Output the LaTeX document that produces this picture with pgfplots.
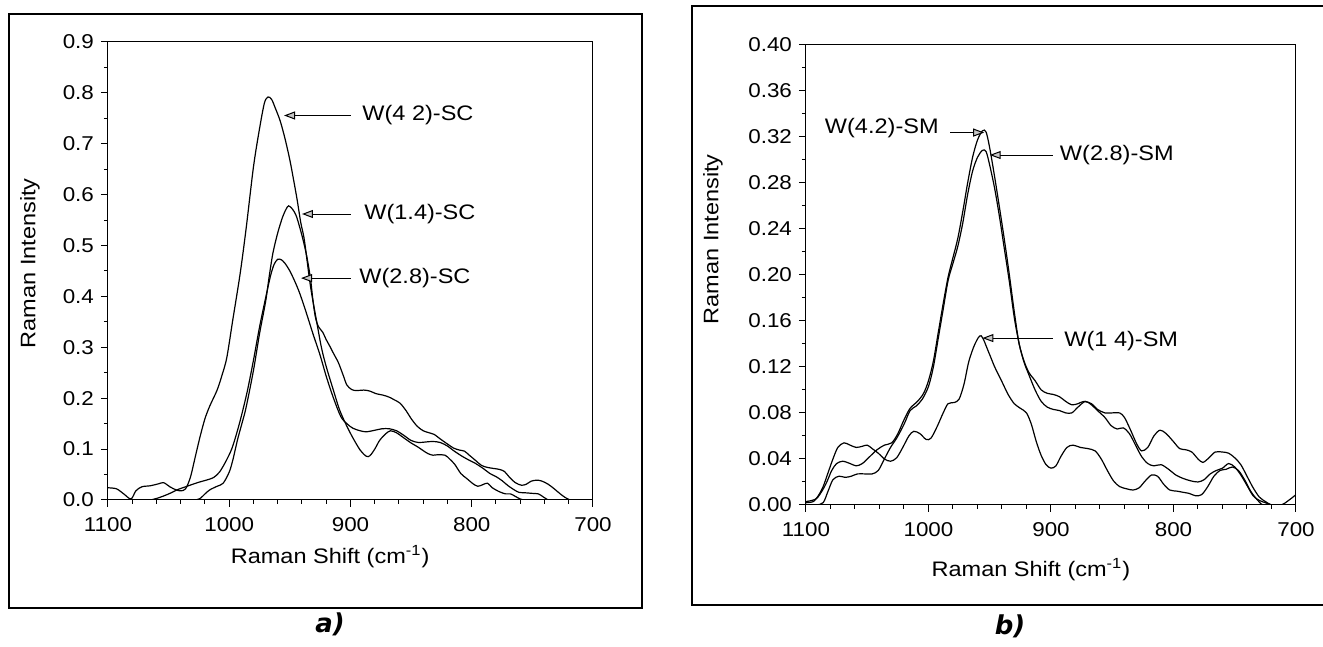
\documentclass[border=0pt]{standalone}
\usepackage{fontspec}
\setmainfont{Liberation Sans}[FakeStretch=1.12]
\newfontfamily\capfont{DejaVu Sans}
\usepackage{pgfplots}
\pgfplotsset{compat=1.18}
\usetikzlibrary{arrows.meta}

\pgfplotstableread{
x y
1100 0.024
1093 0.022
1087 0.012
1081 0.002
1077 0.018
1072 0.026
1065 0.028
1058 0.032
1054 0.034
1049 0.026
1044 0.020
1040 0.018
1036 0.022
1032 0.045
1028 0.085
1024 0.125
1020 0.160
1016 0.185
1010 0.216
1006 0.245
1002 0.280
997 0.355
991 0.445
986 0.535
980 0.655
975 0.730
971 0.780
968 0.792
965 0.787
962 0.770
958 0.745
954 0.710
950 0.668
947 0.630
944 0.590
941 0.545
938 0.510
933 0.420
928 0.352
924 0.300
920 0.262
914 0.215
909 0.177
903 0.145
898 0.122
892 0.098
887 0.086
884 0.087
880 0.100
876 0.117
871 0.130
867 0.136
862 0.132
856 0.122
850 0.112
845 0.105
840 0.097
836 0.091
832 0.088
828 0.089
822 0.088
818 0.080
814 0.070
809 0.052
804 0.042
799 0.032
795 0.027
791 0.030
787 0.033
783 0.024
777 0.016
772 0.012
768 0.012
764 0.007
760 0.002
757 0.000
}\SCfour

\pgfplotstableread{
x y
1028 0.000
1024 0.003
1020 0.012
1016 0.020
1010 0.027
1005 0.033
1000 0.055
997 0.079
993 0.120
989 0.155
986 0.183
980 0.255
975 0.327
970 0.390
967 0.440
964 0.485
960 0.525
956 0.556
953 0.572
951 0.578
948 0.572
945 0.560
942 0.537
939 0.510
936 0.478
933 0.435
931 0.393
929 0.360
926.5 0.341
923 0.330
920 0.315
917 0.302
914 0.288
910 0.270
906 0.245
903 0.226
899 0.217
895 0.215
889 0.216
884 0.214
879 0.209
873 0.206
868 0.202
864 0.197
859 0.190
854 0.175
850 0.160
845 0.145
840 0.136
835 0.132
831 0.129
826 0.120
820 0.110
815 0.102
810 0.098
806 0.096
802 0.088
797 0.078
792 0.068
787 0.064
782 0.062
777 0.060
773 0.056
769 0.045
764 0.034
759 0.029
755 0.031
751 0.037
746 0.039
742 0.037
737 0.031
732 0.022
727 0.012
723 0.005
719 0.000
}\SCone

\pgfplotstableread{
x y
1065 0.000
1060 0.003
1054 0.008
1048 0.014
1043 0.020
1036 0.026
1030 0.031
1025 0.035
1019 0.039
1013 0.044
1008 0.055
1003 0.075
998 0.100
994 0.130
990 0.165
985 0.215
980 0.275
975 0.340
970 0.397
966 0.440
963 0.463
960 0.473
957 0.472
954 0.465
950 0.450
946 0.430
942 0.407
937 0.372
931 0.327
925 0.284
920 0.243
914 0.200
908 0.164
903 0.150
898 0.141
892 0.136
887 0.134
880 0.137
874 0.140
868 0.140
862 0.136
856 0.127
850 0.117
844 0.113
838 0.114
832 0.115
826 0.113
820 0.106
815 0.097
808 0.086
802 0.078
797 0.072
790 0.061
785 0.052
780 0.046
775 0.038
770 0.028
765 0.020
761 0.015
755 0.014
750 0.013
745 0.012
741 0.006
737 0.000
}\SCtwo

\pgfplotstableread{
x y
1100 0.003
1095 0.004
1091 0.006
1087 0.012
1083 0.020
1079 0.030
1075 0.036
1070 0.038
1064 0.036
1059 0.034
1054 0.036
1048 0.042
1042 0.048
1036 0.052
1030 0.054
1025 0.062
1020 0.074
1015 0.084
1009 0.090
1004 0.097
1000 0.108
996 0.125
992 0.150
988 0.175
984 0.198
980 0.215
976 0.232
972 0.255
968 0.280
964 0.302
960 0.317
956 0.325
953 0.324
950 0.310
946 0.285
942 0.258
938 0.230
934 0.200
930 0.168
926 0.140
922 0.125
918 0.115
913 0.108
908 0.100
903 0.097
898 0.096
893 0.094
888 0.090
883 0.087
878 0.088
873 0.090
867 0.088
862 0.083
856 0.080
850 0.080
844 0.080
840 0.076
835 0.065
830 0.053
826 0.047
821 0.050
816 0.060
811 0.065
806 0.062
800 0.055
795 0.049
790 0.048
785 0.046
780 0.040
776 0.037
771 0.041
766 0.046
760 0.046
755 0.045
750 0.041
745 0.035
740 0.025
735 0.015
730 0.007
725 0.003
720 0.000
715 0.000
}\SMfour

\pgfplotstableread{
x y
1100 0.000
1092 0.000
1086 0.002
1082 0.012
1078 0.022
1073 0.025
1068 0.024
1063 0.025
1058 0.027
1052 0.027
1046 0.027
1041 0.030
1036 0.040
1031 0.050
1026 0.058
1020 0.070
1015 0.082
1010 0.086
1005 0.092
1000 0.103
996 0.120
992 0.145
988 0.170
984 0.195
980 0.210
976 0.225
972 0.245
968 0.270
964 0.290
960 0.302
956 0.308
953 0.307
950 0.295
946 0.275
942 0.250
938 0.222
934 0.194
930 0.163
926 0.140
922 0.124
918 0.113
913 0.100
908 0.090
903 0.085
898 0.083
893 0.082
888 0.080
883 0.080
878 0.085
872 0.090
867 0.087
862 0.082
856 0.076
851 0.069
846 0.066
841 0.067
836 0.062
831 0.052
826 0.042
821 0.036
816 0.034
810 0.035
804 0.031
798 0.026
792 0.023
786 0.021
780 0.020
775 0.022
770 0.027
765 0.030
760 0.032
755 0.036
750 0.033
745 0.026
740 0.017
735 0.008
730 0.004
725 0.002
720 0.000
713 0.000
}\SMtwo

\pgfplotstableread{
x y
1100 0.002
1094 0.003
1090 0.008
1086 0.016
1082 0.028
1078 0.040
1074 0.050
1069 0.054
1064 0.052
1059 0.050
1054 0.051
1050 0.052
1046 0.049
1041 0.045
1036 0.040
1031 0.038
1026 0.041
1021 0.050
1016 0.060
1012 0.064
1007 0.062
1002 0.057
998 0.058
993 0.068
988 0.080
984 0.088
979 0.089
975 0.092
971 0.105
967 0.125
962 0.140
957 0.147
951 0.133
946 0.120
940 0.107
935 0.096
930 0.088
925 0.084
920 0.080
916 0.070
912 0.055
908 0.043
904 0.035
900 0.032
896 0.034
892 0.042
887 0.050
882 0.052
876 0.050
870 0.049
864 0.047
859 0.040
854 0.030
849 0.021
844 0.016
838 0.014
833 0.013
828 0.015
823 0.021
818 0.026
813 0.025
808 0.018
803 0.013
797 0.012
792 0.011
787 0.010
782 0.008
777 0.009
772 0.016
767 0.025
762 0.030
757 0.031
752 0.033
747 0.030
742 0.022
737 0.012
732 0.005
727 0.000
720 0.000
712 0.000
706 0.004
700 0.009
}\SMone

\newcommand\annfont{\fontsize{10.5}{12}\selectfont}
\tikzset{ann/.style={-{Triangle[length=5.5pt,width=4pt,fill=gray!45]}, line width=0.5pt},
  curve/.style={black, line width=0.6pt, smooth, mark=none}}

\pgfplotsset{ramanstyle/.style={
  scale only axis, x dir=reverse, xmin=700, xmax=1100,
  xtick={700,800,900,1000,1100}, minor x tick num=4,
  minor y tick num=1,
  tick align=outside, tick pos=left,
  major tick length=3.5pt, minor tick length=2pt,
  every tick/.style={black, line width=0.5pt},
  axis line style={line width=0.5pt},
  /pgf/number format/assume math mode=true,
  xticklabel style={/pgf/number format/1000 sep={}, yshift=-1.5pt},
  tick label style={font=\fontsize{10}{12}\selectfont},
  label style={font=\fontsize{10.5}{12}\selectfont},
  xlabel={Raman Shift (cm\textsuperscript{-1})},
  ylabel={Raman Intensity},
}}

\begin{document}
\begin{tikzpicture}
\useasboundingbox (0pt,0pt) rectangle (661.5pt,323.5pt);

% frames
\draw[line width=1pt] (4.5pt,316.5pt) rectangle (321pt,19.5pt);
\draw[line width=1pt] (665pt,320.5pt) -- (346pt,320.5pt) -- (346pt,21pt) -- (665pt,21pt);

\node[font={\capfont\bfseries\itshape\fontsize{13}{14}\selectfont}] at (165pt,11.5pt) {a)};
\node[font={\capfont\bfseries\itshape\fontsize{13}{14}\selectfont}] at (505pt,10.5pt) {b)};

% panel a
\begin{axis}[ramanstyle, at={(54pt,73.5pt)}, anchor=south west,
  width=242.5pt, height=229pt,
  ymin=0, ymax=0.9,
  ytick={0,0.1,0.2,0.3,0.4,0.5,0.6,0.7,0.8,0.9},
  yticklabel style={/pgf/number format/.cd, fixed, fixed zerofill, precision=1},
  xlabel style={at={(axis description cs:0.458,-0.1245)}, anchor=center},
  ylabel style={at={(axis description cs:-0.161,0.517)}, anchor=center},
]
\addplot[curve] table[x=x,y=y] {\SCfour};
\addplot[curve] table[x=x,y=y] {\SCone};
\addplot[curve] table[x=x,y=y] {\SCtwo};
\draw[ann] (axis cs:899.6,0.7556) -- (axis cs:954.8,0.7556);
\node[anchor=west, font=\annfont, inner sep=0pt] at (axis cs:890.5,0.7556) {W(4 2)-SC};
\draw[ann] (axis cs:899.6,0.562) -- (axis cs:940,0.562);
\node[anchor=west, font=\annfont, inner sep=0pt] at (axis cs:888.9,0.562) {W(1.4)-SC};
\draw[ann] (axis cs:899.6,0.436) -- (axis cs:940.8,0.436);
\node[anchor=west, font=\annfont, inner sep=0pt] at (axis cs:893,0.436) {W(2.8)-SC};
\end{axis}

% panel b
\begin{axis}[ramanstyle, at={(403pt,71pt)}, anchor=south west,
  width=245pt, height=230.25pt,
  ymin=0, ymax=0.4,
  ytick={0,0.04,0.08,0.12,0.16,0.20,0.24,0.28,0.32,0.36,0.40},
  yticklabel style={/pgf/number format/.cd, fixed, fixed zerofill, precision=2},
  xlabel style={at={(axis description cs:0.459,-0.141)}, anchor=center},
  ylabel style={at={(axis description cs:-0.19,0.577)}, anchor=center},
]
\addplot[curve] table[x=x,y=y] {\SMfour};
\addplot[curve] table[x=x,y=y] {\SMtwo};
\addplot[curve] table[x=x,y=y] {\SMone};
\draw[ann] (axis cs:982.4,0.3235) -- (axis cs:954.5,0.3235);
\node[anchor=east, font=\annfont, inner sep=0pt] at (axis cs:991.4,0.327) {W(4.2)-SM};
\draw[ann] (axis cs:898.4,0.304) -- (axis cs:950,0.304);
\node[anchor=west, font=\annfont, inner sep=0pt] at (axis cs:893,0.304) {W(2.8)-SM};
\draw[ann] (axis cs:898.4,0.145) -- (axis cs:956,0.145);
\node[anchor=west, font=\annfont, inner sep=0pt] at (axis cs:889.4,0.1426) {W(1 4)-SM};
\end{axis}
\end{tikzpicture}
\end{document}
